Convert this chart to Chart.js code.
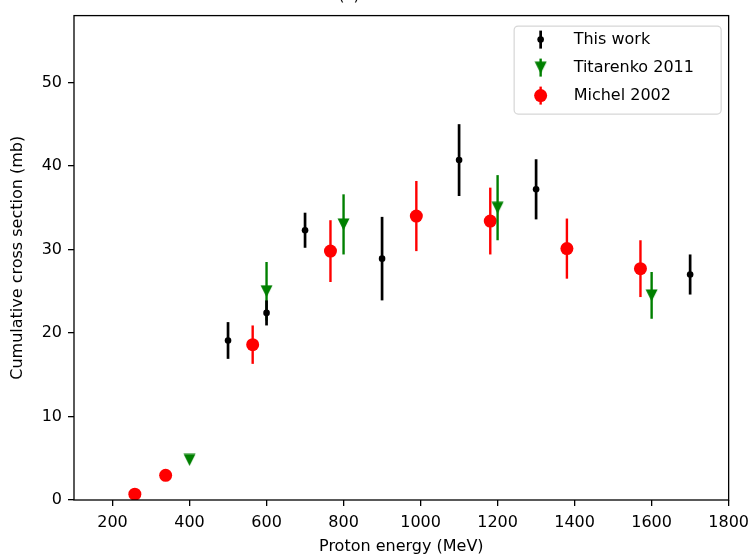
<!DOCTYPE html>
<html>
<head>
<meta charset="utf-8">
<script src="https://cdn.jsdelivr.net/npm/chart.js@4.4.1/dist/chart.umd.min.js"></script>
<style>
html, body { margin: 0; padding: 0; background: #fff; }
#wrap { width: 756px; height: 558px; position: relative; }
</style>
</head>
<body>
<div id="wrap"><canvas id="myChart"></canvas></div>
<script>
// Tick labels
const xTicks = [200, 400, 600, 800, 1000, 1200, 1400, 1600, 1800];
const yTicks = [0, 10, 20, 30, 40, 50];

// This work
const thisWorkEnergy = [500, 600, 700, 900, 1100, 1300, 1700];
const thisWorkValue = [19.1, 22.4, 32.3, 28.9, 40.7, 37.2, 27.0];
const thisWorkError = [2.2, 1.5, 2.1, 5.0, 4.3, 3.6, 2.4];

// Titarenko 2011
const titarenkoEnergy = [400, 600, 800, 1200, 1600];
const titarenkoValue = [4.8, 25.0, 33.0, 35.0, 24.5];
const titarenkoError = [0.3, 3.5, 3.6, 3.9, 2.8];

// Michel 2002
const michelEnergy = [258, 338, 564, 766, 989, 1181, 1380, 1571];
const michelValue = [0.7, 2.95, 18.6, 29.8, 34.0, 33.4, 30.1, 27.7];
const michelError = [0.2, 0.3, 2.3, 3.7, 4.2, 4.0, 3.6, 3.4];

function toPoints(xs, ys, errs){
    return xs.map((x, i) => ({x: x, y: ys[i], err: errs[i]}));
}

// matplotlib style 'v' marker
function makeTriangle(color, size){
    const c = document.createElement('canvas');
    c.width = size + 1;
    c.height = size + 1;
    const g = c.getContext('2d');
    g.fillStyle = color;
    g.beginPath();
    g.moveTo(0.5, 0.5);
    g.lineTo(size + 0.5, 0.5);
    g.lineTo(size / 2 + 0.5, size + 0.5);
    g.closePath();
    g.fill();
    return c;
}

const greenTriangle = makeTriangle('#008000', 12);

Chart.defaults.font.family = 'DejaVu Sans';
Chart.defaults.font.size = 16;
Chart.defaults.color = '#000';

const errorBars = {
    id: 'errorBars',
    beforeDatasetDraw(chart, args){
        const ds = chart.data.datasets[args.index];
        const xs = chart.scales.x, ys = chart.scales.y;
        const ctx = chart.ctx;
        ctx.save();
        ctx.strokeStyle = ds.backgroundColor;
        ctx.lineWidth = ds.errWidth;
        for(const p of ds.data){
            const px = xs.getPixelForValue(p.x);
            ctx.beginPath();
            ctx.moveTo(px, ys.getPixelForValue(p.y - p.err));
            ctx.lineTo(px, ys.getPixelForValue(p.y + p.err));
            ctx.stroke();
        }
        ctx.restore();
    }
};

const frameAndLegend = {
    id: 'frameAndLegend',
    afterDraw(chart){
        const ctx = chart.ctx;
        const a = chart.chartArea;
        ctx.save();
        // axes frame
        ctx.strokeStyle = '#000';
        ctx.lineWidth = 1.3;
        ctx.strokeRect(a.left, a.top, a.right - a.left, a.bottom - a.top);

        // clipped title at the very top
        ctx.fillStyle = '#000';
        ctx.font = '16px DejaVu Sans';
        ctx.textAlign = 'center';
        ctx.textBaseline = 'alphabetic';
        ctx.fillText('(c)', 349, -0.5);

        // legend box
        const w = 207, h = 88;
        const bx = a.right - 8 - w, by = a.top + 10;
        ctx.fillStyle = 'rgba(255,255,255,0.8)';
        ctx.strokeStyle = 'rgba(204,204,204,0.8)';
        ctx.lineWidth = 1.2;
        ctx.beginPath();
        ctx.roundRect(bx + 0.5, by + 0.5, w, h, 4);
        ctx.fill();
        ctx.stroke();

        chart.data.datasets.forEach((ds, i) => {
            const cy = by + 14 + i * 28;
            const mx = bx + 27;
            ctx.strokeStyle = ds.backgroundColor;
            ctx.lineWidth = ds.errWidth;
            ctx.beginPath();
            ctx.moveTo(mx, cy - 9);
            ctx.lineTo(mx, cy + 9);
            ctx.stroke();
            if(ds.pointStyle === 'circle'){
                ctx.fillStyle = ds.backgroundColor;
                ctx.beginPath();
                ctx.arc(mx, cy, ds.pointRadius, 0, Math.PI * 2);
                ctx.fill();
            } else {
                const img = ds.pointStyle;
                ctx.drawImage(img, mx - img.width / 2, cy - img.height / 2);
            }
            ctx.fillStyle = '#000';
            ctx.textAlign = 'left';
            ctx.textBaseline = 'middle';
            ctx.fillText(ds.label, bx + 60, cy);
        });
        ctx.restore();
    }
};

const ctx = document.getElementById('myChart').getContext('2d');
const chart = new Chart(ctx, {
    type: 'scatter',
    data: {
        datasets: [{
            label: 'This work',
            data: toPoints(thisWorkEnergy, thisWorkValue, thisWorkError),
            backgroundColor: '#000000',
            borderWidth: 0,
            errWidth: 2.7,
            pointStyle: 'circle',
            pointRadius: 3.3,
            pointHoverRadius: 3.3
        }, {
            label: 'Titarenko 2011',
            data: toPoints(titarenkoEnergy, titarenkoValue, titarenkoError),
            backgroundColor: '#008000',
            borderWidth: 0,
            errWidth: 2.4,
            pointStyle: greenTriangle,
            pointRadius: 6
        }, {
            label: 'Michel 2002',
            data: toPoints(michelEnergy, michelValue, michelError),
            backgroundColor: '#ff0000',
            borderWidth: 0,
            errWidth: 2.4,
            pointStyle: 'circle',
            pointRadius: 6.5,
            pointHoverRadius: 6.5
        }]
    },
    options: {
        responsive: true,
        maintainAspectRatio: false,
        animation: false,
        events: [],
        layout: { padding: { top: 14, right: 25, left: 0, bottom: 0 } },
        plugins: {
            legend: { display: false },
            tooltip: { enabled: false }
        },
        scales: {
            x: {
                type: 'linear',
                min: 100,
                max: 1800,
                afterBuildTicks: s => { s.ticks = xTicks.map(v => ({value: v})); },
                afterFit: s => { s.height = 58; },
                border: { display: false },
                grid: { drawOnChartArea: false, drawTicks: true, tickLength: 6, color: '#000', lineWidth: 1.3 },
                ticks: { padding: 7, maxRotation: 0, autoSkip: false, callback: v => String(v) },
                title: { display: true, text: 'Proton energy (MeV)', padding: { top: 0, bottom: 2 } }
            },
            y: {
                type: 'linear',
                min: 0,
                max: 58,
                afterBuildTicks: s => { s.ticks = yTicks.map(v => ({value: v})); },
                afterFit: s => { s.width = 74; },
                border: { display: false },
                grid: { drawOnChartArea: false, drawTicks: true, tickLength: 6, color: '#000', lineWidth: 1.3 },
                ticks: { padding: 6, callback: v => String(v) },
                title: { display: true, text: 'Cumulative cross section (mb)', padding: { top: 8, bottom: 0 } }
            }
        }
    },
    plugins: [errorBars, frameAndLegend]
});
</script>
</body>
</html>
